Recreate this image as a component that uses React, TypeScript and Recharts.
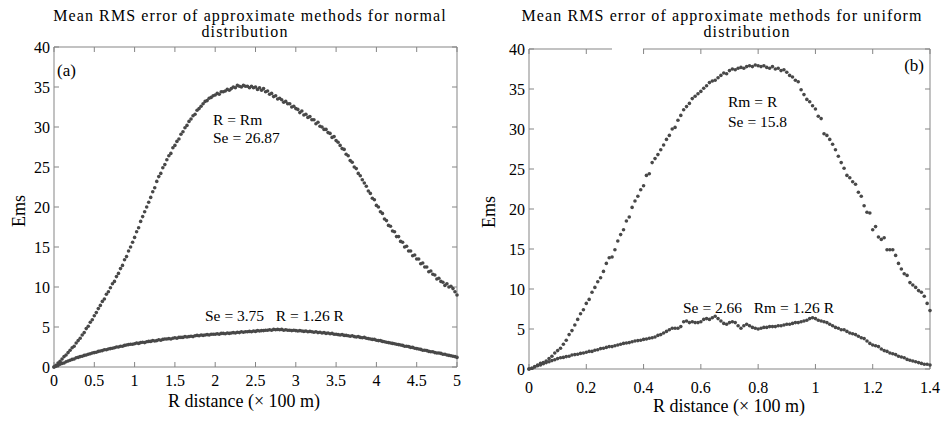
import React from "react";
import { ScatterChart, Scatter, XAxis, YAxis, ReferenceLine, Customized } from "recharts";

const FONT = '"Liberation Serif", "Times New Roman", serif';
const DOT_COLOR = "#484848";
const FRAME_COLOR = "#858585";

// (a) normal distribution: Ems sampled every 0.025 (x 100 m) from 0 to 5
const STEP_A = 0.025;
const RM_EQ_R_A = [
  0, 0.2, 0.5, 0.7, 1.0, 1.3, 1.5, 1.8,
  2.1, 2.4, 2.6, 3.0, 3.3, 3.6, 4.0, 4.3,
  4.8, 5.1, 5.6, 5.9, 6.4, 6.8, 7.3, 7.7,
  8.2, 8.5, 9.1, 9.4, 9.9, 10.4, 10.7, 11.3,
  11.7, 12.3, 12.7, 13.4, 13.8, 14.5, 15.0, 15.6,
  16.2, 16.9, 17.4, 18.2, 18.8, 19.4, 20.0, 20.6,
  21.2, 21.9, 22.4, 23.2, 23.8, 24.2, 24.9, 25.3,
  25.9, 26.4, 26.7, 27.4, 27.7, 28.2, 28.5, 29.1,
  29.4, 29.9, 30.2, 30.7, 31.0, 31.4, 31.6, 32.1,
  32.3, 32.6, 32.9, 33.2, 33.3, 33.6, 33.7, 33.9,
  34.0, 34.2, 34.1, 34.4, 34.4, 34.5, 34.7, 34.6,
  34.8, 35.0, 34.9, 35.2, 35.1, 35.0, 35.2, 35.1,
  35.1, 34.9, 35.1, 34.9, 35.0, 34.7, 34.9, 34.6,
  34.8, 34.4, 34.5, 34.1, 34.2, 33.8, 33.9, 33.5,
  33.6, 33.4, 33.1, 33.2, 32.9, 32.9, 32.5, 32.6,
  32.3, 32.2, 31.8, 32.0, 31.5, 31.6, 31.2, 31.3,
  30.9, 30.9, 30.4, 30.6, 30.1, 30.0, 29.7, 29.7,
  29.3, 29.2, 28.7, 28.8, 28.3, 28.1, 27.7, 27.3,
  27.2, 26.6, 26.4, 25.8, 25.6, 25.0, 24.8, 24.2,
  23.9, 23.4, 23.0, 22.6, 22.0, 21.7, 21.1, 20.9,
  20.2, 20.0, 19.4, 19.2, 18.5, 18.3, 17.7, 17.6,
  17.0, 16.9, 16.3, 16.3, 15.7, 15.6, 15.0, 15.1,
  14.5, 14.5, 13.9, 14.0, 13.5, 13.5, 12.9, 13.0,
  12.5, 12.5, 11.9, 12.0, 11.6, 11.5, 11.0, 11.1,
  10.7, 10.6, 10.2, 10.4, 10.0, 10.1, 9.8, 9.4,
  9.0,
];
const RM_126_A = [
  0, 0.1, 0.2, 0.35, 0.45, 0.5, 0.65, 0.75,
  0.85, 0.95, 1.0, 1.15, 1.2, 1.3, 1.35, 1.45,
  1.5, 1.6, 1.65, 1.75, 1.8, 1.85, 1.95, 2.0,
  2.05, 2.15, 2.15, 2.25, 2.3, 2.35, 2.4, 2.5,
  2.5, 2.6, 2.6, 2.7, 2.75, 2.8, 2.85, 2.85,
  2.9, 3.0, 2.95, 3.05, 3.1, 3.05, 3.15, 3.2,
  3.2, 3.3, 3.25, 3.3, 3.4, 3.35, 3.45, 3.5,
  3.5, 3.55, 3.5, 3.6, 3.65, 3.6, 3.7, 3.7,
  3.7, 3.8, 3.75, 3.8, 3.85, 3.8, 3.9, 3.95,
  3.9, 4.0, 3.95, 4.0, 4.05, 4.0, 4.1, 4.1,
  4.1, 4.15, 4.1, 4.2, 4.2, 4.15, 4.25, 4.2,
  4.25, 4.3, 4.25, 4.35, 4.3, 4.4, 4.35, 4.4,
  4.4, 4.45, 4.4, 4.5, 4.45, 4.55, 4.5, 4.55,
  4.55, 4.6, 4.6, 4.65, 4.6, 4.7, 4.65, 4.7,
  4.65, 4.7, 4.6, 4.65, 4.6, 4.6, 4.55, 4.6,
  4.55, 4.5, 4.55, 4.5, 4.45, 4.5, 4.4, 4.45,
  4.4, 4.35, 4.4, 4.3, 4.35, 4.25, 4.3, 4.2,
  4.25, 4.15, 4.2, 4.1, 4.1, 4.05, 4.0, 4.05,
  3.95, 3.95, 3.9, 3.85, 3.9, 3.8, 3.75, 3.8,
  3.7, 3.65, 3.7, 3.6, 3.55, 3.5, 3.45, 3.45,
  3.35, 3.3, 3.3, 3.2, 3.15, 3.1, 3.05, 3.0,
  2.95, 2.9, 2.85, 2.8, 2.75, 2.7, 2.6, 2.6,
  2.55, 2.45, 2.45, 2.35, 2.3, 2.25, 2.2, 2.1,
  2.1, 2.05, 1.95, 1.9, 1.9, 1.8, 1.75, 1.75,
  1.7, 1.6, 1.6, 1.5, 1.45, 1.4, 1.35, 1.3,
  1.2,
];
const X_TICKS_A = [0, 0.5, 1, 1.5, 2, 2.5, 3, 3.5, 4, 4.5, 5];

// (b) uniform distribution: Ems sampled every 0.01 (x 100 m) from 0 to 1.4
const STEP_B = 0.01;
const RM_EQ_R_B = [
  0, 0.1, 0.3, 0.5, 0.7, 0.8, 1.0, 1.3, 1.6, 2.0,
  2.3, 2.6, 3.1, 3.6, 4.3, 4.8, 5.5, 6.2, 6.9, 7.4,
  8.2, 8.7, 9.6, 10.2, 10.9, 11.4, 12.2, 13.2, 13.9, 14.0,
  14.9, 16.0, 16.8, 17.4, 18.5, 19.0, 20.2, 21.0, 21.6, 22.4,
  22.9, 24.2, 24.4, 25.8, 26.3, 26.8, 27.4, 28.0, 28.7, 29.2,
  30.0, 30.2, 31.1, 31.7, 32.4, 32.8, 33.2, 33.8, 34.1, 34.4,
  34.7, 35.1, 35.4, 35.8, 36.0, 36.1, 36.4, 36.7, 37.0, 36.9,
  37.3, 37.5, 37.4, 37.6, 37.7, 37.6, 37.8, 37.9, 37.8, 38.0,
  37.9, 37.8, 37.9, 37.7, 37.6, 37.8, 37.5, 37.6, 37.3, 37.4,
  37.1, 36.7, 36.5, 36.1, 35.9, 34.9, 34.3, 33.7, 33.4, 32.9,
  32.5, 31.6, 31.3, 29.4, 29.2, 28.7, 28.1, 27.4, 26.6, 25.8,
  25.1, 24.2, 23.9, 23.4, 23.1, 22.1, 21.6, 20.4, 19.6, 19.5,
  17.4, 17.8, 16.5, 16.2, 16.4, 14.9, 14.9, 14.9, 14.2, 13.2,
  12.5, 11.9, 11.7, 10.8, 10.5, 10.2, 9.8, 9.6, 9.1, 8.2,
  7.3,
];
const RM_126_B = [
  0, 0.1, 0.25, 0.4, 0.5, 0.65, 0.8, 0.9, 1.05, 1.15,
  1.3, 1.4, 1.45, 1.55, 1.6, 1.75, 1.8, 1.85, 1.95, 2.0,
  2.1, 2.2, 2.2, 2.35, 2.4, 2.55, 2.6, 2.7, 2.8, 2.8,
  2.9, 3.0, 3.1, 3.2, 3.25, 3.3, 3.4, 3.5, 3.55, 3.6,
  3.7, 3.75, 3.85, 3.9, 4.0, 4.2, 4.3, 4.5, 4.7, 4.9,
  5.1, 5.1, 5.1, 5.3, 5.9, 6.0, 5.8, 5.9, 5.8, 5.8,
  5.9, 6.2, 6.3, 6.2, 6.4, 6.6, 6.3, 6.0, 5.7, 5.6,
  5.8, 5.9, 5.8, 5.4, 5.1, 5.4, 5.6, 5.4, 5.2, 5.1,
  5.0, 5.1, 5.2, 5.2, 5.3, 5.3, 5.3, 5.4, 5.4, 5.5,
  5.6, 5.6, 5.7, 5.8, 5.8, 5.9, 6.0, 6.1, 6.3, 6.4,
  6.3, 6.1, 6.0, 5.9, 5.8, 5.6, 5.4, 5.2, 5.1, 4.9,
  4.9, 4.7, 4.5, 4.4, 4.3, 4.1, 3.9, 3.8, 3.5, 3.2,
  3.0, 2.9, 2.8, 2.5, 2.3, 2.2, 2.0, 1.9, 1.8, 1.6,
  1.5, 1.4, 1.2, 1.1, 1.0, 0.9, 0.8, 0.7, 0.6, 0.6,
  0.5,
];
const X_TICKS_B = [0, 0.2, 0.4, 0.6, 0.8, 1, 1.2, 1.4];

const Y_TICKS = [0, 5, 10, 15, 20, 25, 30, 35, 40];
const Y_MAX = 40;

const toPoints = (vals: number[], step: number) =>
  vals.map((v, i) => ({ r: +(i * step).toFixed(3), ems: v }));

const Dot = (props: any) => <circle cx={props.cx} cy={props.cy} r={1.8} fill={DOT_COLOR} />;
const Nothing = () => null;

const tickStyle = { fill: "#000", fontSize: 16, fontFamily: FONT };

type Note = { x: number; y: number; text: string; size?: number; anchor?: string; spacing?: number; rotate?: boolean };

// one MATLAB-style boxed panel with inward ticks on all four sides
function Panel({ width, top, right, left, bottom, domain, xTicks, upper, lower, step, notes, xTickGap }: any) {
  const upperPts = toPoints(upper, step);
  const lowerPts = toPoints(lower, step);
  const plotW = width - left - right;
  const plotH = 421 - top - bottom;
  const xMax = domain[1];
  // 5px tick marks, expressed in data units
  const tickX = (5 / plotW) * xMax;
  const tickY = (5 / plotH) * Y_MAX;

  const drawNotes = () => (
    <g>
      {notes.map((n: Note, i: number) => (
        <text
          key={i}
          x={n.x}
          y={n.y}
          fontSize={n.size || 16}
          fontFamily={FONT}
          fill="#000"
          textAnchor={n.anchor || "start"}
          letterSpacing={n.spacing || 0}
          transform={n.rotate ? `rotate(-90 ${n.x} ${n.y})` : undefined}
          style={{ whiteSpace: "pre" }}
        >
          {n.text}
        </text>
      ))}
    </g>
  );

  const tickProps = { xAxisId: "b", yAxisId: "l", stroke: FRAME_COLOR, strokeWidth: 1, ifOverflow: "visible" as const };

  return (
    <ScatterChart width={width} height={421} margin={{ top: top - 2, right: right - 2, bottom: 0, left: 0 }} style={{ fontFamily: FONT }}>
      <XAxis
        xAxisId="b"
        dataKey="r"
        type="number"
        domain={domain}
        ticks={xTicks}
        height={bottom}
        stroke={FRAME_COLOR}
        tickLine={false}
        tickSize={5}
        tickMargin={xTickGap - 5}
        tick={tickStyle}
        interval={0}
      />
      <XAxis xAxisId="t" orientation="top" dataKey="r" type="number" domain={domain} ticks={xTicks} height={2} stroke={FRAME_COLOR} tickLine={false} tick={Nothing} interval={0} />
      <YAxis
        yAxisId="l"
        dataKey="ems"
        type="number"
        domain={[0, Y_MAX]}
        ticks={Y_TICKS}
        width={left}
        stroke={FRAME_COLOR}
        tickLine={false}
        tickSize={5}
        tickMargin={-1}
        tick={tickStyle}
        interval={0}
      />
      <YAxis yAxisId="r" orientation="right" dataKey="ems" type="number" domain={[0, Y_MAX]} ticks={Y_TICKS} width={2} stroke={FRAME_COLOR} tickLine={false} tick={Nothing} interval={0} />
      {xTicks.map((t: number) => (
        <ReferenceLine key={`xb${t}`} {...tickProps} segment={[{ x: t, y: 0 }, { x: t, y: tickY }]} />
      ))}
      {xTicks.map((t: number) => (
        <ReferenceLine key={`xt${t}`} {...tickProps} segment={[{ x: t, y: Y_MAX }, { x: t, y: Y_MAX - tickY }]} />
      ))}
      {Y_TICKS.map((t) => (
        <ReferenceLine key={`yl${t}`} {...tickProps} segment={[{ x: 0, y: t }, { x: tickX, y: t }]} />
      ))}
      {Y_TICKS.map((t) => (
        <ReferenceLine key={`yr${t}`} {...tickProps} segment={[{ x: xMax - tickX, y: t }, { x: xMax, y: t }]} />
      ))}
      <Scatter xAxisId="b" yAxisId="l" data={upperPts} shape={Dot} isAnimationActive={false} />
      <Scatter xAxisId="b" yAxisId="l" data={lowerPts} shape={Dot} isAnimationActive={false} />
      <Scatter xAxisId="t" yAxisId="r" data={upperPts} shape={Nothing} isAnimationActive={false} />
      <Customized component={drawNotes} />
    </ScatterChart>
  );
}

const NOTES_A: Note[] = [
  { x: 250, y: 21, text: "Mean RMS error of approximate methods for normal", size: 16, anchor: "middle", spacing: 1.1 },
  { x: 245, y: 37, text: "distribution", size: 16, anchor: "middle", spacing: 1.1 },
  { x: 57, y: 76, text: "(a)", size: 17 },
  { x: 213, y: 125, text: "R = Rm", size: 15.5 },
  { x: 213, y: 143, text: "Se = 26.87", size: 15.5 },
  { x: 205, y: 321, text: "Se = 3.75   R = 1.26 R", size: 15.5 },
  { x: 25, y: 211, text: "Ems", size: 18, anchor: "middle", rotate: true },
  { x: 244, y: 407, text: "R distance (\u00d7 100 m)", size: 18, anchor: "middle" },
];

const NOTES_B: Note[] = [
  { x: 252, y: 21, text: "Mean RMS error of approximate methods for uniform", size: 16, anchor: "middle", spacing: 1.1 },
  { x: 277, y: 37, text: "distribution", size: 16, anchor: "middle", spacing: 1.1 },
  { x: 454, y: 71, text: "(b)", size: 17, anchor: "end" },
  { x: 258, y: 107, text: "Rm = R", size: 15.5 },
  { x: 258, y: 127, text: "Se = 15.8", size: 15.5 },
  { x: 213, y: 313, text: "Se = 2.66   Rm = 1.26 R", size: 15.5 },
  { x: 25, y: 212, text: "Ems", size: 18, anchor: "middle", rotate: true },
  { x: 259, y: 412, text: "R distance (\u00d7 100 m)", size: 18, anchor: "middle" },
];

export default function App() {
  return (
    <div style={{ position: "absolute", left: 0, top: 0, width: 941, height: 421, background: "#fff" }}>
      <div style={{ position: "absolute", left: 0, top: 0 }}>
        <Panel
          width={470}
          top={47}
          right={13}
          left={54}
          bottom={54}
          domain={[0, 5]}
          xTicks={X_TICKS_A}
          upper={RM_EQ_R_A}
          lower={RM_126_A}
          step={STEP_A}
          notes={NOTES_A}
          xTickGap={8}
        />
      </div>
      <div style={{ position: "absolute", left: 470, top: 0 }}>
        <Panel
          width={471}
          top={49}
          right={11}
          left={59}
          bottom={52}
          domain={[0, 1.4]}
          xTicks={X_TICKS_B}
          upper={RM_EQ_R_B}
          lower={RM_126_B}
          step={STEP_B}
          notes={NOTES_B}
          xTickGap={13}
        />
      </div>
      {/* break in the top frame of panel (b), as in the source figure */}
      <div style={{ position: "absolute", left: 612, top: 46, width: 31, height: 5, background: "#fff" }} />
    </div>
  );
}
